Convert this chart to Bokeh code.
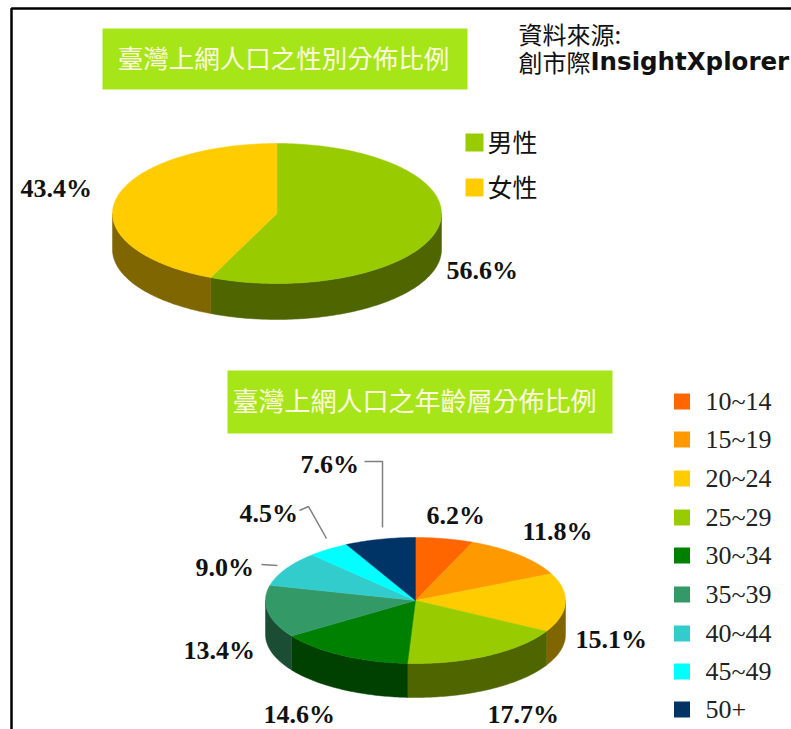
import numpy as np
from bokeh.plotting import figure
from bokeh.models import Range1d
from bokeh.core.properties import value
from bokeh.embed import file_html
from bokeh.resources import INLINE

# --- data ---
gender_names = ["男性", "女性"]
gender_values = [56.6, 43.4]
gender_colors = ["#99CC00", "#FFCC00"]
gender_side = ["#4F6600", "#806600"]

age_names = ["10~14", "15~19", "20~24", "25~29", "30~34", "35~39", "40~44", "45~49", "50+"]
age_values = [6.2, 11.8, 15.1, 17.7, 14.6, 13.4, 9.0, 4.5, 7.6]
age_colors = ["#FF6600", "#FF9900", "#FFCC00", "#99CC00", "#008000", "#339966", "#33CCCC", "#00FFFF", "#003366"]
age_side = ["#803300", "#804D00", "#806600", "#4F6600", "#004000", "#1A4D33", "#1A6666", "#008080", "#001A33"]

title_gender = "臺灣上網人口之性別分佈比例"
title_age = "臺灣上網人口之年齡層分佈比例"
source_lines = ["資料來源:", "創市際", "InsightXplorer"]

# --- layout (page pixels) ---
X0, X1, Y0, Y1 = 0, 791, 0, 729
gender_pie = dict(cx=276.5, cy=213, rx=164.5, ry=70, depth=36)
age_pie = dict(cx=415, cy=600, rx=150, ry=63, depth=34)
gender_label_pos = [(446, 270), (20, 188)]
age_label_pos = [(426, 515), (522, 531), (575, 639), (487, 714), (263, 714),
                 (183, 650), (195, 567), (239, 513), (300, 464)]
age_leaders = [([364, 382, 382], [461, 461, 527]),
               ([299, 308, 326], [510, 506, 538]),
               ([261, 277], [564, 565])]
age_legend_y = [401, 439, 478, 517, 555, 594, 633, 671, 709]
gender_legend_y = [142, 187]

p = figure(width=X1 - X0, height=Y1 - Y0, x_range=Range1d(X0, X1), y_range=Range1d(Y1, Y0),
           output_backend="svg", toolbar_location=None, min_border=0)
p.axis.visible = False
p.grid.visible = False
p.outline_line_color = None
p.background_fill_color = "white"
p.border_fill_color = "white"


def draw_pie(values, colors, sides, cx, cy, rx, ry, depth):
    total = sum(values)
    fractions = np.cumsum([0] + list(values)) / total * 2 * np.pi
    side_x, side_y, side_c, top_x, top_y, top_c = [], [], [], [], [], []
    for a, b, col, sc in zip(fractions[:-1], fractions[1:], colors, sides):
        t = np.linspace(a, b, max(3, int((b - a) * 60)))
        ex = cx + rx * np.sin(t)
        ey = cy - ry * np.cos(t)
        top_x.append([cx, *ex])
        top_y.append([cy, *ey])
        top_c.append(col)
        lo, hi = max(a, np.pi / 2), min(b, 3 * np.pi / 2)
        if hi > lo:
            s = np.linspace(lo, hi, max(3, int((hi - lo) * 60)))
            sx = cx + rx * np.sin(s)
            sy = cy - ry * np.cos(s)
            side_x.append([*sx, *sx[::-1]])
            side_y.append([*sy, *(sy[::-1] + depth)])
            side_c.append(sc)
    p.patches(side_x, side_y, fill_color=side_c, line_color=side_c, line_width=0.5)
    p.patches(top_x, top_y, fill_color=top_c, line_color=top_c, line_width=0.5)


def put_text(x, y, s, font, size, color="#111111", style="normal", align="left"):
    p.text([x], [y], text=[s], text_font=value(font), text_font_size=f"{size}px",
           text_font_style=style, text_color=color, text_baseline="middle", text_align=align)


# frame
p.line([X1, 11, 11], [8, 8, Y1], line_color="black", line_width=2.5)

# title boxes
p.quad(left=[102, 227], right=[467, 612], top=[28, 370], bottom=[89, 433],
       fill_color="#A6E619", line_color=None)
put_text(283, 56, title_gender, "Noto Sans CJK TC", 25.5, "#FFF8E0", align="center")
put_text(414, 399, title_age, "Noto Sans CJK TC", 26, "#FFF8E0", align="center")

# source
put_text(518, 33, source_lines[0], "Noto Sans CJK TC", 24)
put_text(518, 61, source_lines[1], "Noto Sans CJK TC", 24)
put_text(590, 61, source_lines[2], "DejaVu Sans", 24.5, style="bold")

# pies
draw_pie(gender_values, gender_colors, gender_side, **gender_pie)
draw_pie(age_values, age_colors, age_side, **age_pie)

# labels
for v, (x, y) in zip(gender_values, gender_label_pos):
    put_text(x, y, f"{v:.1f}%", "Liberation Serif", 26, style="bold")
for v, (x, y) in zip(age_values, age_label_pos):
    put_text(x, y, f"{v:.1f}%", "Liberation Serif", 26, style="bold")

# leaders
p.multi_line([l[0] for l in age_leaders], [l[1] for l in age_leaders], line_color="#808080", line_width=1.5)

# gender legend
p.rect([474] * 2, gender_legend_y, width=18, height=18, fill_color=gender_colors, line_color=None)
for n, y in zip(gender_names, gender_legend_y):
    put_text(487, y - 2, n, "Noto Sans CJK TC", 25, "#111111")

# age legend
p.rect([681.5] * len(age_names), age_legend_y, width=16, height=16, fill_color=age_colors, line_color=None)
for n, y in zip(age_names, age_legend_y):
    put_text(705, y, n, "Liberation Serif", 26, "#222222")

open("out.html", "w").write(file_html(p, INLINE))
